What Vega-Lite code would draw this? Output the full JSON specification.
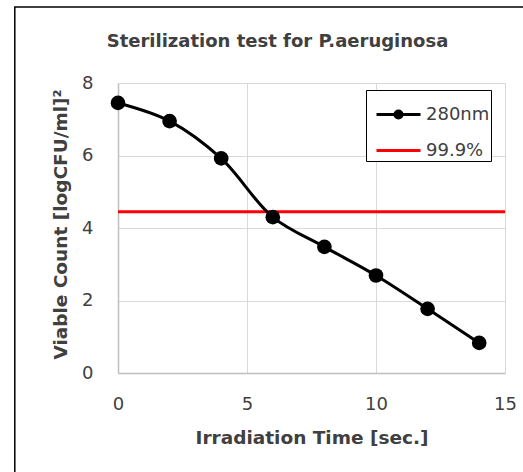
{
  "$schema": "https://vega.github.io/schema/vega-lite/v6.json",
  "width": 387,
  "height": 290,
  "autosize": "none",
  "padding": {"left": 118, "top": 83, "right": 18, "bottom": 99},
  "background": "white",
  "title": {
    "text": "Sterilization test for P.aeruginosa",
    "fontSize": 18,
    "font": "DejaVu Sans",
    "fontWeight": "bold",
    "color": "#404040",
    "anchor": "middle",
    "frame": "group",
    "dx": -34,
    "baseline": "alphabetic",
    "offset": -59
  },
  "datasets": {
    "measurements": [
      {"time": 0, "count": 7.45, "series": "280nm"},
      {"time": 2, "count": 6.95, "series": "280nm"},
      {"time": 4, "count": 5.92, "series": "280nm"},
      {"time": 6, "count": 4.30, "series": "280nm"},
      {"time": 8, "count": 3.48, "series": "280nm"},
      {"time": 10, "count": 2.69, "series": "280nm"},
      {"time": 12, "count": 1.77, "series": "280nm"},
      {"time": 14, "count": 0.83, "series": "280nm"}
    ],
    "threshold": [
      {"count": 4.45, "series": "99.9%"}
    ]
  },
  "layer": [
    {
      "data": {"name": "threshold"},
      "mark": {"type": "rule", "strokeWidth": 3},
      "encoding": {
        "y": {"field": "count", "type": "quantitative"},
        "color": {"field": "series", "type": "nominal"}
      }
    },
    {
      "data": {"name": "measurements"},
      "mark": {"type": "line", "interpolate": "catmull-rom", "strokeWidth": 3},
      "encoding": {
        "x": {
          "field": "time",
          "type": "quantitative",
          "scale": {"domain": [0, 15], "nice": false},
          "axis": {
            "title": "Irradiation Time [sec.]",
            "values": [0, 5, 10, 15],
            "labelPadding": 22,
            "titleX": 193.5,
            "titleY": 64,
            "titleBaseline": "middle"
          }
        },
        "y": {
          "field": "count",
          "type": "quantitative",
          "scale": {"domain": [0, 8], "nice": false},
          "axis": {
            "title": "Viable Count [logCFU/ml]²",
            "values": [0, 2, 4, 6, 8],
            "labelPadding": 25,
            "titleX": -58,
            "titleY": 141,
            "titleBaseline": "middle",
            "titleAngle": -90
          }
        },
        "color": {
          "field": "series",
          "type": "nominal",
          "scale": {"domain": ["280nm", "99.9%"], "range": ["black", "red"]},
          "legend": {
            "title": null,
            "orient": "none",
            "legendX": 248,
            "legendY": 7,
            "direction": "vertical",
            "fillColor": "white",
            "strokeColor": "black",
            "padding": 1,
            "symbolOffset": 8,
            "symbolSize": 1936,
            "symbolStrokeWidth": 3,
            "symbolType": "stroke",
            "labelFontSize": 18,
            "labelFont": "DejaVu Sans",
            "labelColor": "#404040",
            "labelOffset": 4,
            "rowPadding": 2,
            "encode": {
              "symbols": {
                "update": {
                  "shape": [
                    {"test": "datum.value === '280nm'", "value": "M-1,0H1M0.16,0A0.16,0.16,0,1,1,-0.16,0A0.16,0.16,0,1,1,0.16,0Z"},
                    {"value": "stroke"}
                  ],
                  "fill": [
                    {"test": "datum.value === '280nm'", "value": "black"},
                    {"value": "transparent"}
                  ],
                  "stroke": [
                    {"test": "datum.value === '280nm'", "value": "black"},
                    {"value": "red"}
                  ],
                  "strokeWidth": {"value": 3}
                }
              }
            }
          }
        }
      }
    },
    {
      "data": {"name": "measurements"},
      "mark": {"type": "point", "filled": true, "shape": "circle", "size": 215, "color": "black", "opacity": 1},
      "encoding": {
        "x": {"field": "time", "type": "quantitative"},
        "y": {"field": "count", "type": "quantitative"}
      }
    },
    {
      "data": {"name": "threshold"},
      "mark": {"type": "rect", "filled": false, "stroke": "black", "strokeWidth": 1.5, "clip": false},
      "encoding": {
        "x": {"datum": -4.0, "type": "quantitative", "axis": {"title": "Irradiation Time [sec.]"}},
        "x2": {"datum": 17},
        "y": {"datum": 10.1, "type": "quantitative", "axis": {"title": "Viable Count [logCFU/ml]²"}},
        "y2": {"datum": -4}
      }
    }
  ],
  "config": {
    "view": {"stroke": null},
    "font": "DejaVu Sans",
    "axis": {
      "ticks": false,
      "tickSize": 0,
      "grid": true,
      "gridColor": "#d9d9d9",
      "gridWidth": 1,
      "domainColor": "#bfbfbf",
      "domainWidth": 1.5,
      "labelFont": "DejaVu Sans",
      "labelFontSize": 18,
      "labelColor": "#404040",
      "labelFlush": false,
      "labelOverlap": false,
      "titleFont": "DejaVu Sans",
      "titleFontSize": 18.5,
      "titleFontWeight": "bold",
      "titleColor": "#404040"
    }
  }
}
